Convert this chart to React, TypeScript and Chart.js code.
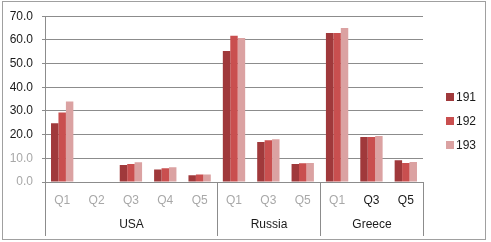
import React, { useEffect, useRef } from "react";
import { Chart, registerables } from "chart.js";

Chart.register(...registerables);

const categories = ["Q1", "Q2", "Q3", "Q4", "Q5", "Q1", "Q3", "Q5", "Q1", "Q3", "Q5"];
const groupNames = ["USA", "Russia", "Greece"];
const groupSizes = [5, 3, 3];
const seriesNames = ["191", "192", "193"];
const s191 = [24.8, 0, 7.2, 5.3, 2.9, 55.3, 16.9, 7.6, 62.9, 19.0, 9.2];
const s192 = [29.3, 0, 7.6, 5.8, 3.2, 61.7, 17.6, 7.9, 62.9, 19.0, 8.0];
const s193 = [34.0, 0, 8.3, 6.2, 3.2, 60.8, 18.0, 8.0, 65.0, 19.4, 8.4];
const yTicks = [0, 10, 20, 30, 40, 50, 60, 70];

const colors = ["#A0393B", "#C94F4F", "#DBA2A2"];
const FONT = "'Liberation Sans', Arial, sans-serif";
const LIGHT = "#A8A8A8";
const DARK = "#1a1a1a";
const LINE = "#8C8C8C";

export default function App() {
  const ref = useRef<HTMLCanvasElement | null>(null);

  useEffect(() => {
    document.body.style.margin = "0";
    const canvas = ref.current;
    if (!canvas) return;

    const decor = {
      id: "decor",
      afterDraw(chart: any) {
        const ctx = chart.ctx;
        const x = chart.scales.x;
        const area = chart.chartArea;
        ctx.save();
        // outer border
        ctx.strokeStyle = "#A0A0A0";
        ctx.lineWidth = 1;
        ctx.strokeRect(2.5, 1.5, 483, 238);
        // group dividers and labels
        ctx.strokeStyle = LINE;
        ctx.lineWidth = 1;
        const half = (x.getPixelForValue(1) - x.getPixelForValue(0)) / 2;
        let idx = 0;
        const bounds: number[] = [Math.round(area.left) + 0.5];
        groupSizes.forEach((n) => {
          idx += n;
          const px = x.getPixelForValue(idx - 1) + half;
          bounds.push(Math.round(px) + 0.5);
        });
        bounds.forEach((bx) => {
          ctx.beginPath();
          ctx.moveTo(bx, area.bottom);
          ctx.lineTo(bx, 236);
          ctx.stroke();
        });
        ctx.fillStyle = DARK;
        ctx.font = "12px " + FONT;
        ctx.textAlign = "center";
        ctx.textBaseline = "middle";
        groupNames.forEach((g, i) => {
          ctx.fillText(g, (bounds[i] + bounds[i + 1]) / 2, 225);
        });
        // legend
        ctx.textAlign = "left";
        seriesNames.forEach((s, i) => {
          const y = 97 + i * 24;
          ctx.fillStyle = colors[i];
          ctx.fillRect(446, y - 4, 8, 8);
          ctx.fillStyle = DARK;
          ctx.fillText(s, 456, y + 0.5);
        });
        ctx.restore();
      },
    };

    const chart = new Chart(canvas, {
      type: "bar",
      data: {
        labels: categories,
        datasets: [s191, s192, s193].map((d, i) => ({
          label: seriesNames[i],
          data: d,
          backgroundColor: colors[i],
          borderWidth: 0,
          categoryPercentage: 0.65,
          barPercentage: 1.0,
        })),
      },
      options: {
        responsive: false,
        animation: false,
        devicePixelRatio: 1,
        layout: { padding: { left: 0, right: 68, top: 15, bottom: 0 } },
        plugins: { legend: { display: false }, tooltip: { enabled: false } },
        scales: {
          x: {
            grid: { display: false, drawTicks: false },
            border: { display: true, color: LINE },
            ticks: {
              padding: 11,
              font: { family: FONT, size: 12 },
              color: (c: any) => (c.index >= 9 ? DARK : LIGHT),
              maxRotation: 0,
              autoSkip: false,
            },
            afterFit: (s: any) => {
              s.height = 60;
            },
          },
          y: {
            min: 0,
            max: 70,
            afterBuildTicks: (s: any) => {
              s.ticks = yTicks.map((v) => ({ value: v }));
            },
            grid: { color: LINE, tickLength: 3 },
            border: { display: true, color: LINE },
            ticks: {
              padding: 9,
              font: { family: FONT, size: 12 },
              color: (c: any) => (c.tick && c.tick.value <= 10 ? LIGHT : DARK),
              callback: (v: any) => Number(v).toFixed(1),
            },
            afterFit: (s: any) => {
              s.width = 45;
            },
          },
        },
      },
      plugins: [decor],
    });
    return () => chart.destroy();
  }, []);

  return <canvas ref={ref} width={491} height={242} style={{ display: "block" }} />;
}
